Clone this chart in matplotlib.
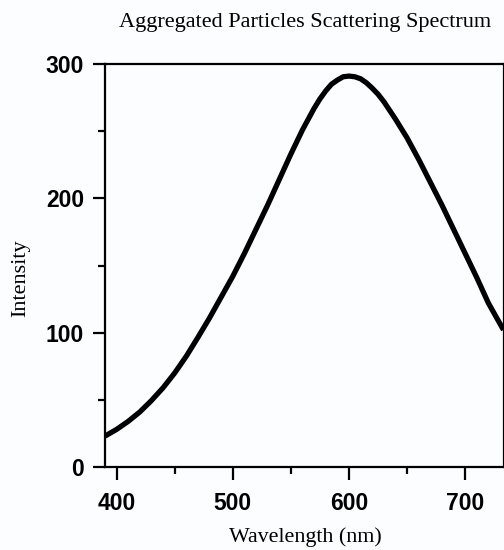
import numpy as np
import matplotlib.pyplot as plt
from matplotlib.ticker import MultipleLocator

# values
wavelength = [390, 400, 410, 420, 430, 440, 450, 460, 470, 480, 490, 500,
              510, 520, 530, 540, 550, 560, 570, 575, 580, 585, 590, 595,
              600, 605, 610, 615, 620, 625, 630, 640, 650, 660, 670, 680,
              690, 700, 710, 720, 733]
intensity = [23, 28, 34, 41, 49.5, 59, 70, 82.5, 96.5, 111, 126.5, 142,
             159, 177, 195, 214, 233, 251, 267, 274, 280, 285, 288, 290.5,
             291, 290.5, 289, 286, 282, 277.5, 272, 259, 245, 229, 212, 195,
             177, 159, 141, 122, 102]
x_ticks = [400, 500, 600, 700]
y_ticks = [0, 100, 200, 300]

serif = 'Liberation Serif'
sans = 'Liberation Sans'

fig = plt.figure(figsize=(5.04, 5.5), dpi=100)
fig.patch.set_facecolor('#fcfdff')
ax = fig.add_axes([105 / 504, 1 - 467 / 550, 398.5 / 504, (467 - 64) / 550])
ax.set_facecolor('#fcfdff')

ax.plot(wavelength, intensity, color='black', lw=3.8,
        solid_joinstyle='round', solid_capstyle='butt')

ax.set_xlim(390, 733)
ax.set_ylim(0, 300)
ax.set_xticks(x_ticks)
ax.set_yticks(y_ticks)
ax.xaxis.set_minor_locator(MultipleLocator(50))
ax.yaxis.set_minor_locator(MultipleLocator(50))

for s in ax.spines.values():
    s.set_linewidth(1.6)
ax.tick_params(which='major', length=9, width=1.6, direction='out')
ax.tick_params(which='minor', length=5, width=1.6, direction='out')
ax.tick_params(axis='x', which='major', pad=9)
ax.tick_params(axis='y', which='major', pad=6)
for lab in ax.get_xticklabels() + ax.get_yticklabels():
    lab.set_fontfamily(sans)
    lab.set_fontweight('bold')
    lab.set_fontsize(16.5)

fig.text(305 / 504, 1 - 22 / 550, 'Aggregated Particles Scattering Spectrum',
         ha='center', va='center', family=serif, fontsize=16)
fig.text(305 / 504, 1 - 537 / 550, 'Wavelength (nm)',
         ha='center', va='center', family=serif, fontsize=15.8)
fig.text(21 / 504, 1 - 278 / 550, 'Intensity', rotation=90,
         ha='center', va='center', family=serif, fontsize=16)

fig.savefig('out.png', dpi=100, facecolor=fig.get_facecolor())
